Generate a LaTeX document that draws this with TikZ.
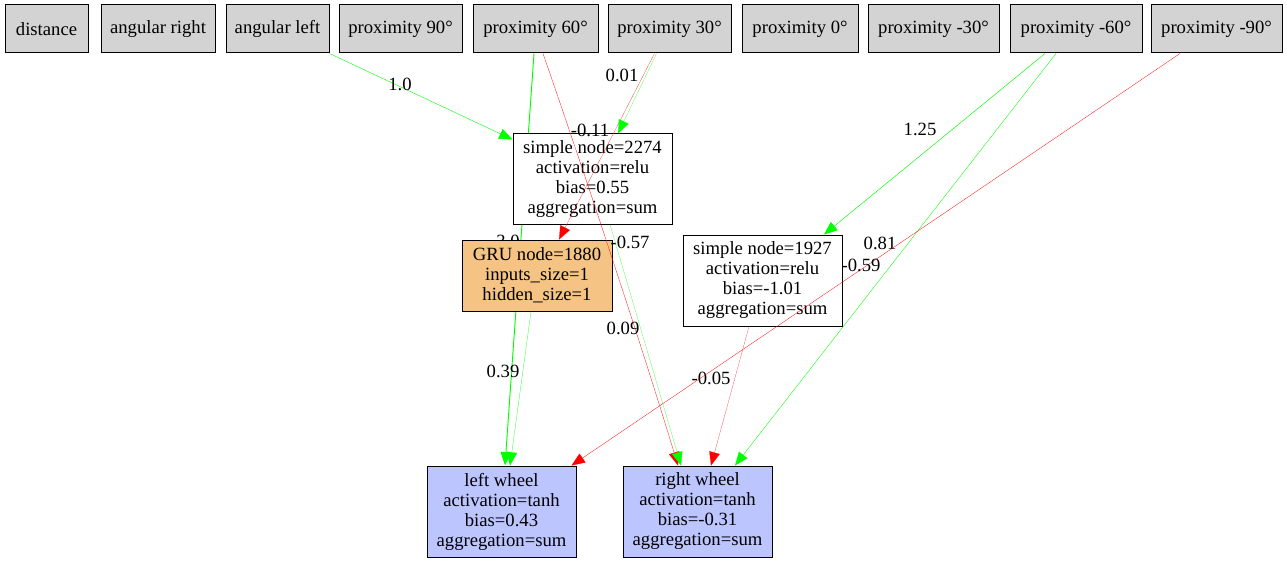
\documentclass[tikz,border=0pt]{standalone}
\usepackage{fontspec}
\setmainfont{Liberation Serif}
\usetikzlibrary{calc,arrows.meta}
\pgfdeclarelayer{paper}
\pgfdeclarelayer{under}
\pgfsetlayers{paper,under,main}
\definecolor{topgray}{RGB}{211,211,211}
\definecolor{gruorange}{RGB}{245,196,132}
\definecolor{wheelblue}{RGB}{189,197,255}
\definecolor{posgreen}{RGB}{0,255,0}
\definecolor{negred}{RGB}{255,0,0}
\begin{document}
\begin{tikzpicture}[x=0.75pt,y=-0.75pt,
  box/.style={draw=black, line width=0.75pt, inner sep=0pt, align=center, font=\fontsize{14}{15}\selectfont},
  sz/.style 2 args={minimum width=#1*0.75pt, minimum height=#2*0.75pt},
  inp/.style={box, fill=topgray},
  hid/.style={box, fill=white},
  grus/.style={box, fill=gruorange},
  outp/.style={box, fill=wheelblue},
  lbl/.style={inner sep=0pt, font=\fontsize{14}{15}\selectfont},
  tip/.style={-{Triangle[length=10pt,width=8pt]}},
  wplus/.style={tip, draw=posgreen, line width=#1pt},
  wminus/.style={tip, draw=negred, line width=#1pt}
]
\useasboundingbox (0,0) rectangle (1287,563);
\begin{pgfonlayer}{paper}
\fill[white] (0,0) rectangle (1287,563);
\end{pgfonlayer}

% input nodes
\node[inp, sz={83}{48}]  (d)    at (46.5,29)  {distance};
\node[inp, sz={114}{48}] (ar)   at (158,29)   {angular right};
\node[inp, sz={103}{48}] (al)   at (277.5,29) {angular left};
\node[inp, sz={123}{48}] (p90)  at (400.5,29) {proximity 90°};
\node[inp, sz={125}{48}] (p60)  at (535.5,29) {proximity 60°};
\node[inp, sz={123}{48}] (p30)  at (669.5,29) {proximity 30°};
\node[inp, sz={116}{48}] (p0)   at (800,29)   {proximity 0°};
\node[inp, sz={131}{48}] (pm30) at (933.5,29) {proximity -30°};
\node[inp, sz={132}{48}] (pm60) at (1076,29)  {proximity -60°};
\node[inp, sz={131}{48}] (pm90) at (1216.5,29) {proximity -90°};

% hidden nodes
\node[hid, sz={159}{90}] (s2274) at (592.5,179) {simple node=2274\\activation=relu\\bias=0.55\\aggregation=sum};
\node[hid, sz={159}{91}] (s1927) at (762.5,280.5) {simple node=1927\\activation=relu\\bias=-1.01\\aggregation=sum};
\node[grus, sz={150}{71}] (gru) at (537,275.5) {GRU node=1880\\inputs\_size=1\\hidden\_size=1};

% output nodes
\node[outp, sz={149}{91}] (lw) at (501.5,511.5) {left wheel\\activation=tanh\\bias=0.43\\aggregation=sum};
\node[outp, sz={149}{91}] (rw) at (697.5,511.5) {right wheel\\activation=tanh\\bias=-0.31\\aggregation=sum};

% edges
\draw[wplus=0.3] (al.south east) -- ($(s2274.north west)+(0,6)$);
\node[lbl] at (400,84) {1.0};

\begin{pgfonlayer}{under}
\draw[wplus=0.7] ($(p60.south)+(-1.5,0)$) -- ($(lw.north)+(3.5,0)$);
\node[lbl] at (508,241) {3.0};
\end{pgfonlayer}

\draw[wminus=0.214] ($(p60.south)+(7.5,0)$) .. controls (580,160) and (640,340) .. ($(rw.north)+(-19.5,0)$);
\node[lbl] at (630,242) {-0.57};

\draw[wminus=0.122] ($(p30.south)+(-15,0)$) -- ($(gru.north)+(22,0)$);
\node[lbl] at (590,130) {-0.11};

\draw[wplus=0.102] ($(p30.south)+(-13,0)$) -- ($(s2274.north)+(25.5,0)$);
\node[lbl] at (622,75) {0.01};

\draw[wplus=0.118] ($(s2274.south)+(17.5,0)$) -- ($(rw.north)+(-16.5,0)$);
\node[lbl] at (623,328) {0.09};

\draw[wminus=0.11] ($(s1927.south)+(-13.5,0)$) -- ($(rw.north)+(13.5,0)$);
\node[lbl] at (711,378) {-0.05};

\draw[wplus=0.35] ($(pm60.south)+(-31,0)$) -- ($(s1927.north)+(61.5,0)$);
\node[lbl] at (920,129) {1.25};

\draw[wplus=0.262] ($(pm60.south)+(-20,0)$) -- ($(rw.north)+(37.5,0)$);
\node[lbl] at (880,243) {0.81};

\draw[wminus=0.218] ($(pm90.south)+(-36.5,0)$) -- ($(lw.north east)+(-5,0)$);
\node[lbl] at (861,265) {-0.59};

\draw[wplus=0.178] ($(gru.south)+(-6,0)$) -- ($(lw.north)+(8.5,0)$);
\node[lbl] at (503,371) {0.39};
\end{tikzpicture}
\end{document}
